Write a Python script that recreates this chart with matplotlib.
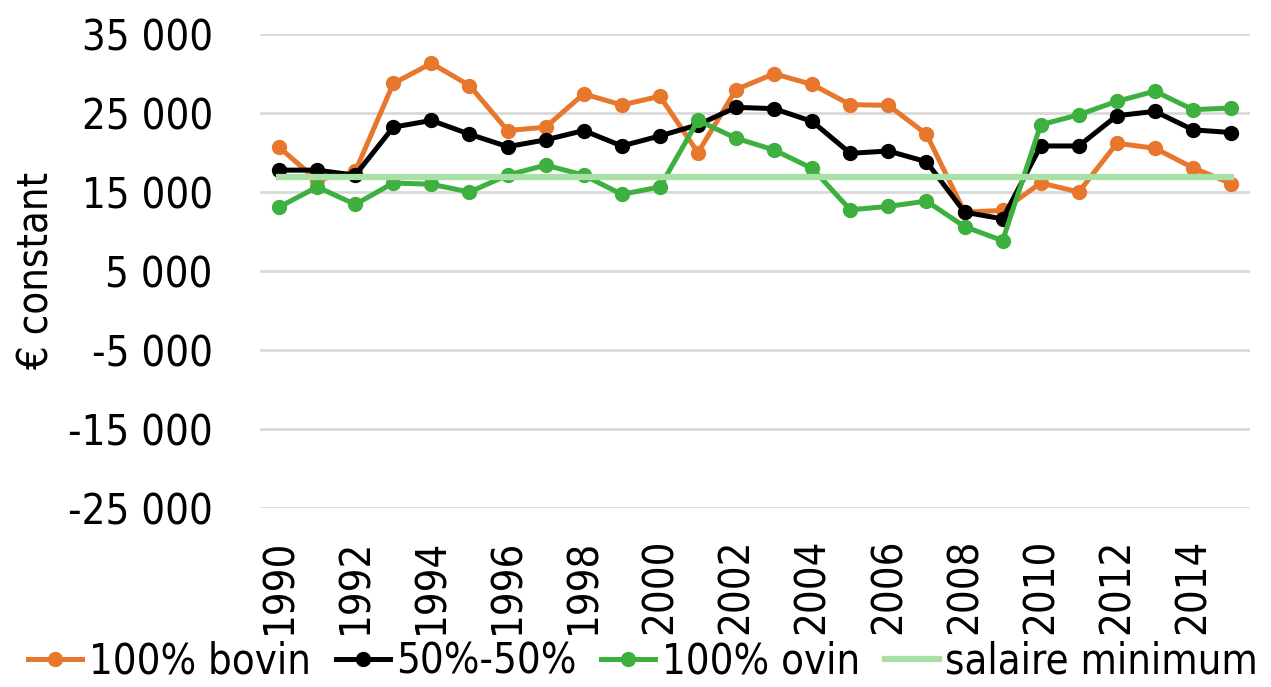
import matplotlib
matplotlib.use("Agg")
import matplotlib.pyplot as plt
from matplotlib import font_manager
from matplotlib.ticker import FuncFormatter

# Data
years = list(range(1990, 2016))
bovin = [20660, 16500, 17600, 28740, 31290, 28480, 22780, 23210, 27420, 26020,
         27120, 19980, 27970, 29970, 28610, 26060, 25970, 22320, 12450, 12670,
         16150, 15000, 21170, 20540, 18060, 16070]
mixte = [17770, 17770, 17130, 23210, 24060, 22320, 20740, 21600, 22780, 20830,
         22100, 23510, 25720, 25550, 23930, 19900, 20190, 18830, 12450, 11600,
         20830, 20830, 24660, 25210, 22870, 22530]
ovin = [13090, 15640, 13430, 16150, 15980, 15000, 17130, 18410, 17130, 14710,
        15640, 24060, 21810, 20320, 17980, 12750, 13180, 13850, 10620, 8840,
        23510, 24780, 26480, 27760, 25420, 25640]
salaire_min = [16920] * len(years)

series_labels = ["100% bovin", "50%-50%", "100% ovin", "salaire minimum"]
yticks = [-25000, -15000, -5000, 5000, 15000, 25000, 35000]

# look for a narrow sans font (the reference uses an Arial Narrow look)
narrow = None
for f in font_manager.fontManager.ttflist:
    if "Narrow" in f.name or (f.stretch in ("condensed", "semi-condensed", 600, 700)
                              and "Mono" not in f.name and "Serif" not in f.name):
        narrow = f
        break

if narrow is not None:
    plt.rcParams["font.family"] = [narrow.name, "DejaVu Sans"]
    if "Narrow" not in narrow.name:
        plt.rcParams["font.stretch"] = "condensed"
    fs = 30
else:
    plt.rcParams["font.family"] = ["Liberation Sans", "DejaVu Sans"]
    fs = 28

fig = plt.figure(figsize=(12.71, 6.87), dpi=100)
ax = fig.add_axes([0.2046, 0.2605, 0.779, 0.69])

x = list(range(len(years)))
ax.plot(x, bovin, color="#E8772E", lw=3.6, marker="o", ms=10, label=series_labels[0], zorder=3)
ax.plot(x, mixte, color="black", lw=3.6, marker="o", ms=10, label=series_labels[1], zorder=4)
ax.plot(x, ovin, color="#3DB03F", lw=3.6, marker="o", ms=10, label=series_labels[2], zorder=5)
ax.plot(x, salaire_min, color="#A8E0A6", lw=4.5, label=series_labels[3], zorder=6)

ax.set_xlim(-0.5, len(years) - 0.5)
ax.set_ylim(-25000, 35000)
ax.set_yticks(yticks)
ax.yaxis.set_major_formatter(FuncFormatter(lambda v, p: f"{int(v):,}".replace(",", " ")))
ax.set_xticks(x[::2])
ax.set_xticklabels([str(y) for y in years[::2]], rotation=90, va="top")

ax.grid(axis="y", color="#D9D9D9", lw=2)
ax.set_axisbelow(True)
for s in ax.spines.values():
    s.set_visible(False)
ax.tick_params(length=0, labelsize=fs)
ax.tick_params(axis="x", pad=22)
ax.tick_params(axis="y", pad=34)
ax.set_ylabel("€ constant", fontsize=fs)
ax.yaxis.set_label_coords(-0.205, 0.5)

fig.legend(loc="center", bbox_to_anchor=(0.506, 0.037), ncol=4, frameon=False,
           fontsize=fs, handlelength=1.3, handletextpad=0.15, columnspacing=0.6,
           borderaxespad=0, borderpad=0)

fig.savefig("out.png", dpi=100)
